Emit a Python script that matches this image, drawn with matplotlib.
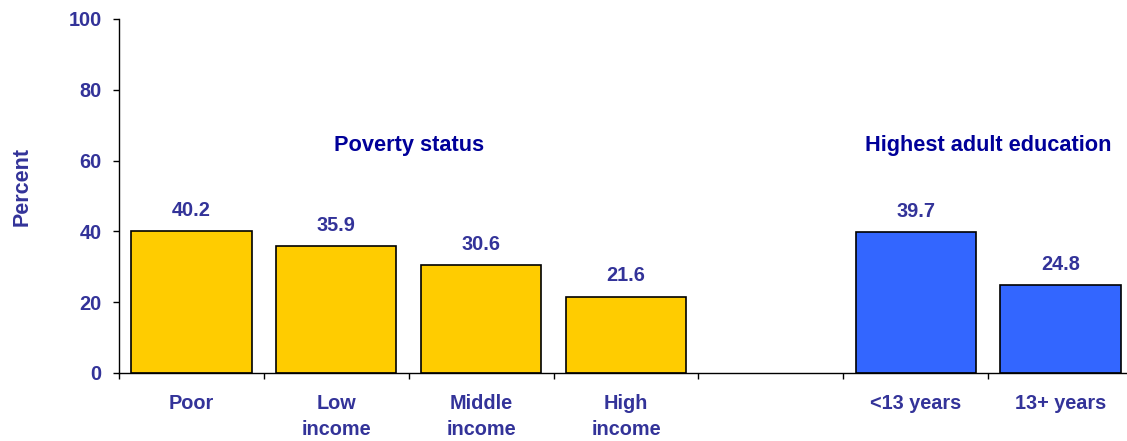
import matplotlib

matplotlib.use("Agg")
import matplotlib.pyplot as plt

# chart data
categories = ["Poor", "Low\nincome", "Middle\nincome", "High\nincome", "", "<13 years", "13+ years"]
values = [40.2, 35.9, 30.6, 21.6, None, 39.7, 24.8]
groups = ["poverty", "poverty", "poverty", "poverty", None, "education", "education"]
group_titles = {"poverty": "Poverty status", "education": "Highest adult education"}
group_title_x = {"poverty": 1.5, "education": 5.5}
y_ticks = [0, 20, 40, 60, 80, 100]

colors = {"poverty": "#FFCC00", "education": "#3366FF"}
text_color = "#333399"
title_color = "#000099"

plt.rcParams["font.family"] = ["Liberation Sans", "DejaVu Sans"]
plt.rcParams["font.weight"] = "bold"

fig = plt.figure(figsize=(11.27, 4.41), dpi=100)
ax = fig.add_axes([119 / 1127, 68 / 441, (1133 - 119) / 1127, 354 / 441])

for i, (val, grp) in enumerate(zip(values, groups)):
    if val is None:
        continue
    ax.bar(i, val, width=0.83, color=colors[grp], edgecolor="black", linewidth=1.2, zorder=2)
    ax.annotate(f"{val:.1f}", (i, val), xytext=(0, 8), textcoords="offset points",
                ha="center", va="bottom", fontsize=14.3, fontweight="bold", color=text_color)

for grp, title in group_titles.items():
    ax.text(group_title_x[grp], 62.6, title, ha="center", va="baseline",
            fontsize=15.7, fontweight="bold", color=title_color)

ax.set_xlim(-0.5, len(categories) - 0.5)
ax.set_ylim(0, 100)
ax.set_yticks(y_ticks)
ax.set_xticks(range(len(categories)))
ax.set_xticklabels(categories)
ax.set_xticks([i - 0.5 for i in range(len(categories) + 1)], minor=True)

ax.tick_params(axis="x", which="major", length=0, pad=15, labelsize=14.3, labelcolor=text_color)
ax.tick_params(axis="x", which="minor", length=4, width=1, direction="out")
ax.tick_params(axis="y", length=4.5, width=1, pad=8, labelsize=14.3, labelcolor=text_color)
for lbl in ax.get_xticklabels() + ax.get_yticklabels():
    lbl.set_fontweight("bold")
for lbl in ax.get_xticklabels():
    lbl.set_linespacing(1.5)

ax.spines["top"].set_visible(False)
ax.spines["right"].set_visible(False)
ax.spines["left"].set_linewidth(1)
ax.spines["bottom"].set_linewidth(1)

ax.set_ylabel("Percent", fontsize=15.5, fontweight="bold", color=text_color)
ax.yaxis.set_label_coords(-86 / 1014, (373 - 187) / 354)

fig.savefig("out.png", dpi=100)
plt.close(fig)
